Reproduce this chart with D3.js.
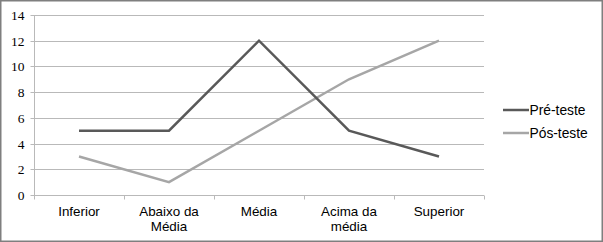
<!DOCTYPE html>
<html><head><meta charset="utf-8">
<script src="https://cdn.jsdelivr.net/npm/d3@7"></script>
<style>body{margin:0;background:#fff}svg{display:block}</style>
</head><body>
<script>
const categories = [["Inferior"], ["Abaixo da", "Média"], ["Média"], ["Acima da", "média"], ["Superior"]];
const categoryKeys = ["Inferior", "Abaixo da Média", "Média", "Acima da média", "Superior"];
const preTeste = [5, 5, 12, 5, 3];
const posTeste = [3, 1, 5, 9, 12];
const yTicks = [0, 2, 4, 6, 8, 10, 12, 14];
const seriesNames = ["Pré-teste", "Pós-teste"];
const seriesColors = ["#595959", "#a6a6a6"];

const W = 603, H = 242;
const svg = d3.select("body").append("svg").attr("width", W).attr("height", H);
svg.append("rect").attr("x", 0.75).attr("y", 0.75).attr("width", W - 1.5).attr("height", H - 1.5)
  .attr("fill", "#fff").attr("stroke", "#7f7f7f").attr("stroke-width", 1.5);

const x = d3.scaleBand().domain(categoryKeys).range([34, 484]);
const y = d3.scaleLinear().domain([0, 14]).range([195, 15]);

// gridlines
svg.append("g").selectAll("line").data(yTicks).join("line")
  .attr("x1", 34).attr("x2", 484).attr("y1", d => Math.round(y(d)) + 0.5).attr("y2", d => Math.round(y(d)) + 0.5)
  .attr("stroke", "#b9b9b9").attr("stroke-width", 1);

// y axis
const yAxis = svg.append("g").attr("transform", "translate(34.5,0)")
  .call(d3.axisLeft(y).tickValues(yTicks).tickSize(4).tickPadding(6).tickFormat(d3.format("d")));
yAxis.select(".domain").attr("stroke", "#b9b9b9").attr("d", "M-0.5,15.5H0V199");
yAxis.selectAll(".tick line").attr("stroke", "#b9b9b9");
yAxis.selectAll(".tick text").attr("font-family", "Liberation Serif, serif").attr("font-size", 13.5).attr("fill", "#000");
yAxis.selectAll(".tick").attr("transform", d => `translate(0,${Math.round(y(d)) + 0.5})`);

// x axis
const xa = svg.append("g").attr("transform", "translate(0,195.5)");
xa.append("line").attr("x1", 34).attr("x2", 484).attr("stroke", "#b9b9b9");
const bounds = categoryKeys.map(k => x(k)).concat([x.range()[1]]);
xa.selectAll("line.tk").data(bounds).join("line").attr("class", "tk")
  .attr("x1", d => Math.round(d) + 0.5).attr("x2", d => Math.round(d) + 0.5).attr("y1", 0).attr("y2", 4)
  .attr("stroke", "#b9b9b9");
const lbl = xa.selectAll("text").data(categories).join("text")
  .attr("x", (d, i) => x(categoryKeys[i]) + x.bandwidth() / 2).attr("y", 20.5)
  .attr("text-anchor", "middle").attr("font-family", "Liberation Sans, Arial, sans-serif").attr("font-size", 13.4).attr("fill", "#000");
lbl.selectAll("tspan").data(d => d).join("tspan")
  .attr("x", function () { return d3.select(this.parentNode).attr("x"); })
  .attr("dy", (d, i) => i === 0 ? 0 : 15).text(d => d);

// lines
const line = d3.line().x((d, i) => x(categoryKeys[i]) + x.bandwidth() / 2).y(d => y(d));
[posTeste, preTeste].forEach((s, idx) => {
  const c = idx === 0 ? seriesColors[1] : seriesColors[0];
  svg.append("path").datum(s).attr("d", line).attr("fill", "none").attr("stroke", c).attr("stroke-width", 2.5)
    .attr("stroke-linejoin", "miter");
});

// legend
const lg = svg.append("g");
seriesNames.forEach((n, i) => {
  const yy = 110 + i * 23;
  lg.append("line").attr("x1", 503).attr("x2", 529).attr("y1", yy).attr("y2", yy).attr("stroke", seriesColors[i]).attr("stroke-width", 2.5);
  lg.append("text").attr("x", 529.5).attr("y", yy + 4.5).attr("font-family", "Liberation Sans, Arial, sans-serif").attr("font-size", 13.8).attr("fill", "#000").text(n);
});
</script>
</body></html>
